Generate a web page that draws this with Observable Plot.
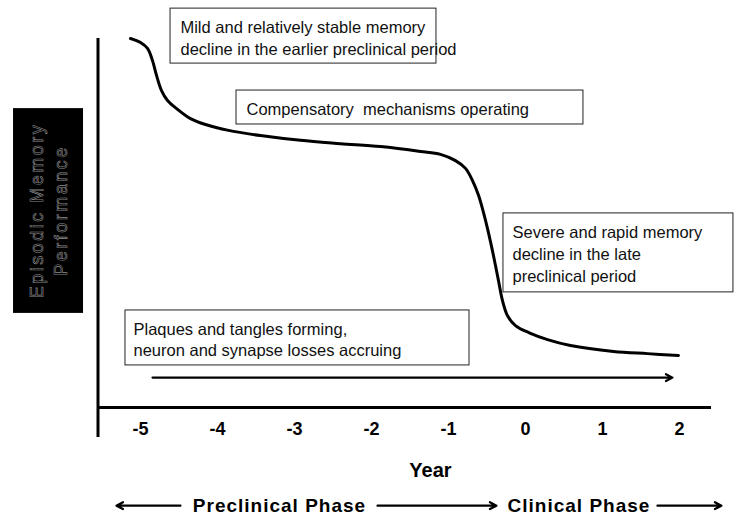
<!DOCTYPE html>
<html>
<head>
<meta charset="utf-8">
<script src="https://cdn.jsdelivr.net/npm/d3@7"></script>
<script src="https://cdn.jsdelivr.net/npm/@observablehq/plot@0.6"></script>
<style>
  html, body { margin: 0; padding: 0; background: #fff; }
</style>
</head>
<body>
<div id="chart"></div>
<script>
// ---- data ----
const xDomain = [-5.552, 2.416];
const yDomain = [0, 100];
const tickYears = [-5, -4, -3, -2, -1, 0, 1, 2];

// memory curve (year, performance in arbitrary units)
const years = [-5.130, -5.000, -4.909, -4.844, -4.792, -4.727, -4.649, -4.519, -4.351, -4.156,
  -3.857, -3.442, -2.922, -2.403, -1.883, -1.364, -1.104, -0.909, -0.779, -0.688,
  -0.610, -0.545, -0.481, -0.416, -0.351, -0.299, -0.234, -0.130, 0.065, 0.286,
  0.584, 1.143, 1.584, 1.987];
const memory = [100.0, 98.9, 97.3, 94.0, 90.0, 85.9, 83.2, 80.8, 78.3, 76.7,
  75.1, 73.7, 72.4, 71.5, 70.7, 69.4, 68.6, 66.9, 64.8, 61.5,
  57.5, 52.8, 47.4, 41.2, 34.4, 29.0, 24.9, 22.2, 20.1, 18.4,
  16.8, 15.2, 14.6, 14.1];

// annotation boxes (data units)
const boxText = [
  "Mild and relatively stable memory\ndecline in the earlier preclinical period",
  "Compensatory  mechanisms operating",
  "Severe and rapid memory\ndecline in the late\npreclinical period",
  "Plaques and tangles forming,\nneuron and synapse losses accruing"
];
const boxX1 = [-4.610, -3.753, -0.286, -5.195];
const boxX2 = [-1.156, 0.753, 2.701, -0.727];
const boxY1 = [93.2, 76.7, 31.2, 11.4];
const boxY2 = [108.1, 85.9, 52.6, 26.3];
const boxTextX = [-4.481, -3.623, -0.169, -5.091];
const boxTextY = [100.5, 81.3, 41.9, 18.7];

// arrows
const arrowX1 = [-4.844, -4.481, -1.922, 1.714];
const arrowX2 = [1.909, -5.312, -0.377, 2.545];
const arrowY  = [8.1, -26.6, -26.6, -26.6];
const arrowW  = [2.2, 2.2, 2.2, 2.2];

// phase labels
const phaseText = ["Preclinical Phase", "Clinical Phase"];
const phaseX = [-3.195, 0.695];
const phaseY = [-26.6, -26.6];

// axis title & y label
const xTitle = "Year";
const xTitlePos = [-1.234, -17.1];
const yLabelLines = ["Episodic Memory", "Performance"];
const yLabelLineX = [-6.338, -6.026];
const yLabelLineY = [53.4, 53.4];
const yLabelBox = {x1: -6.649, x2: -5.740, y1: 25.5, y2: 81.0};
const yAxisBottom = -8.1;

// ---- build tables ----
const curve = years.map((x, i) => ({x, y: memory[i]}));
const boxes = boxText.map((t, i) => ({t, x1: boxX1[i], x2: boxX2[i], y1: boxY1[i], y2: boxY2[i], tx: boxTextX[i], ty: boxTextY[i]}));
const arrows = arrowX1.map((x1, i) => ({x1, x2: arrowX2[i], y: arrowY[i], w: arrowW[i]}));
const phases = phaseText.map((t, i) => ({t, x: phaseX[i], y: phaseY[i]}));
const ylab = yLabelLines.map((t, i) => ({t, x: yLabelLineX[i], y: yLabelLineY[i]}));

const FONT = "'Liberation Sans', Arial, Helvetica, sans-serif";

const chart = Plot.plot({
  width: 735,
  height: 517,
  marginLeft: 97.5,
  marginRight: 24,
  marginTop: 38,
  marginBottom: 110,
  x: {domain: xDomain},
  y: {domain: yDomain, axis: null},
  style: {fontFamily: FONT, background: "#fff", color: "#000", overflow: "visible"},
  marks: [
    // y label black box
    Plot.rect([yLabelBox], {x1: "x1", x2: "x2", y1: "y1", y2: "y2", fill: "#000"}),
    Plot.text(ylab, {
      x: "x", y: "y", text: "t",
      rotate: -90, fontSize: 18, textAnchor: "middle", lineAnchor: "middle",
      fill: "#000", stroke: "#8c8c8c", strokeWidth: 0.6, paintOrder: "fill"
    }),
    // axes lines
    Plot.ruleY([yDomain[0]], {stroke: "#000", strokeWidth: 3}),
    Plot.ruleX([xDomain[0]], {y1: yAxisBottom, y2: yDomain[1], stroke: "#000", strokeWidth: 3}),
    Plot.axisX({
      ticks: tickYears, tickSize: 0, tickPadding: 15, tickFormat: d => String(d),
      fontSize: 18, fontWeight: "bold", label: null
    }),
    Plot.text([xTitle], {x: () => xTitlePos[0], y: () => xTitlePos[1], text: d => d,
      fontSize: 20, fontWeight: "bold", textAnchor: "middle", lineAnchor: "middle"}),
    // curve
    Plot.line(curve, {x: "x", y: "y", stroke: "#000", strokeWidth: 3, curve: "catmull-rom"}),
    // boxes
    Plot.rect(boxes, {x1: "x1", x2: "x2", y1: "y1", y2: "y2", fill: "#fff", stroke: "#222", strokeWidth: 1}),
    Plot.text(boxes, {x: "tx", y: "ty", text: "t", fontSize: 16.5, lineHeight: 1.33,
      textAnchor: "start", lineAnchor: "middle", fill: "#111"}),
    // arrows
    Plot.arrow(arrows, {x1: "x1", x2: "x2", y1: "y", y2: "y", stroke: "#000", strokeWidth: "w",
      headLength: 11, headAngle: 55}),
    // phase labels
    Plot.text(phases, {x: "x", y: "y", text: "t", fontSize: 19, fontWeight: "bold",
      textAnchor: "middle", lineAnchor: "middle"})
  ]
});
// letter spacing for spaced-out labels
chart.querySelectorAll("text").forEach(el => {
  const t = el.textContent;
  if (yLabelLines.includes(t)) el.style.letterSpacing = "2.5px";
  if (phaseText.includes(t)) el.style.letterSpacing = "1px";
});
document.getElementById("chart").appendChild(chart);
</script>
</body>
</html>
